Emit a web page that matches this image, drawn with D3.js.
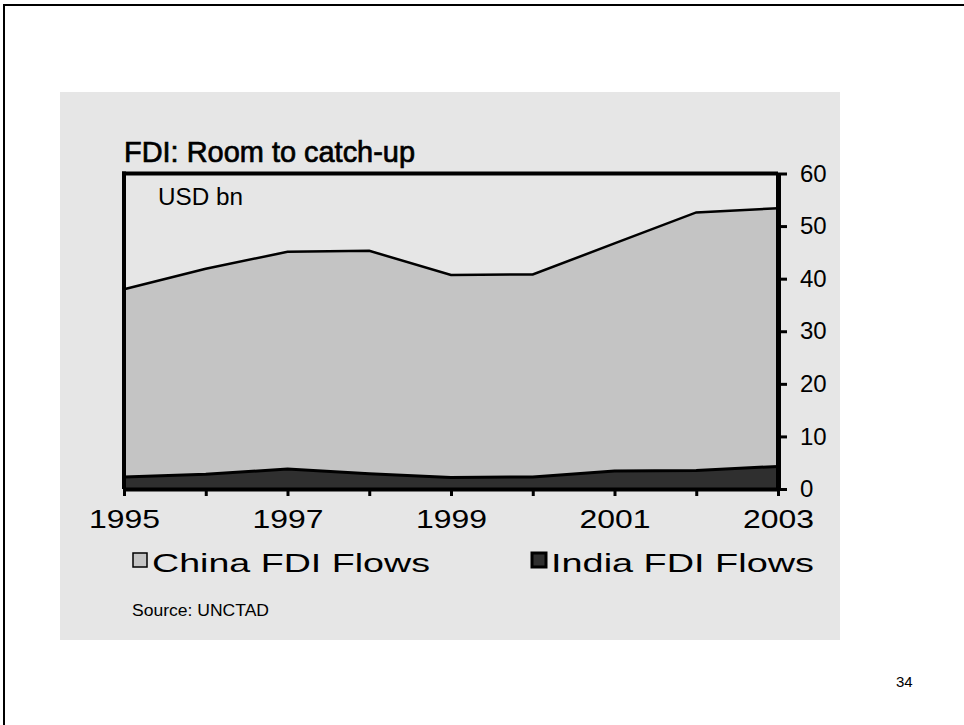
<!DOCTYPE html>
<html>
<head>
<meta charset="utf-8">
<script src="https://cdn.jsdelivr.net/npm/d3@7"></script>
<style>
  html, body { margin: 0; padding: 0; background: #ffffff; }
  svg { display: block; }
  text { font-family: "Liberation Sans", Arial, Helvetica, sans-serif; fill: #000; }
</style>
</head>
<body>
<svg id="chart" width="964" height="725"></svg>
<script>
// FDI inflows, USD bn (UNCTAD)
const years = [1995, 1996, 1997, 1998, 1999, 2000, 2001, 2002, 2003];
const chinaFDI = [38.0, 41.9, 45.1, 45.3, 40.7, 40.8, 46.7, 52.6, 53.4];
const indiaFDI = [2.3, 2.8, 3.8, 2.9, 2.2, 2.3, 3.4, 3.5, 4.3];
const yTicks = [0, 10, 20, 30, 40, 50, 60];
const xLabelYears = [1995, 1997, 1999, 2001, 2003];
const seriesNames = ["China FDI Flows", "India FDI Flows"];

const svg = d3.select("#chart");

// slide frame
svg.append("path")
  .attr("d", "M4,725 V5 H964")
  .attr("fill", "none").attr("stroke", "#000").attr("stroke-width", 2);

// grey chart panel
svg.append("rect")
  .attr("x", 60).attr("y", 92).attr("width", 780).attr("height", 548)
  .attr("fill", "#e6e6e6");

const x = d3.scaleLinear().domain([1995, 2003]).range([124, 778]);
const y = d3.scaleLinear().domain([0, 60]).range([489, 173.5]);

// areas share one generator; India is drawn in front of China
const area = d3.area().x((d, i) => x(years[i])).y0(y(0)).y1(d => y(d));
const line = d3.line().x((d, i) => x(years[i])).y(d => y(d));

svg.append("path").datum(chinaFDI).attr("d", area).attr("fill", "#c4c4c4");
svg.append("path").datum(chinaFDI).attr("d", line)
  .attr("fill", "none").attr("stroke", "#000").attr("stroke-width", 2.5);

svg.append("path").datum(indiaFDI).attr("d", area).attr("fill", "#2f2f2f");
svg.append("path").datum(indiaFDI).attr("d", line)
  .attr("fill", "none").attr("stroke", "#000").attr("stroke-width", 3);

// plot frame: left edge and top edge
svg.append("line")
  .attr("x1", x(1995)).attr("x2", x(1995)).attr("y1", y(60) - 2).attr("y2", y(0))
  .attr("stroke", "#000").attr("stroke-width", 4);
svg.append("line")
  .attr("x1", x(1995) - 2).attr("x2", x(2003)).attr("y1", y(60)).attr("y2", y(60))
  .attr("stroke", "#000").attr("stroke-width", 4);

// bottom axis
const xAxis = d3.axisBottom(x)
  .tickValues(years)
  .tickSize(7).tickSizeOuter(0).tickPadding(14)
  .tickFormat(d => xLabelYears.includes(d) ? String(d) : "");
const gx = svg.append("g").attr("transform", `translate(0,${y(0)})`).call(xAxis);
gx.select(".domain").attr("stroke", "#000").attr("stroke-width", 4);
gx.selectAll(".tick line").attr("stroke", "#000").attr("stroke-width", 3);
gx.selectAll(".tick text")
  .style("font-family", "'Liberation Sans', Arial, sans-serif")
  .style("font-size", "25px").attr("fill", "#000")
  .attr("textLength", 71).attr("lengthAdjust", "spacingAndGlyphs");

// right axis
const yAxis = d3.axisRight(y)
  .tickValues(yTicks)
  .tickSize(9).tickSizeOuter(0).tickPadding(13)
  .tickFormat(d3.format("d"));
const gy = svg.append("g").attr("transform", `translate(${x(2003)},0)`).call(yAxis);
gy.select(".domain").attr("stroke", "#000").attr("stroke-width", 5);
gy.selectAll(".tick line").attr("stroke", "#000").attr("stroke-width", 3);
gy.selectAll(".tick text")
  .style("font-family", "'Liberation Sans', Arial, sans-serif")
  .style("font-size", "24px").attr("fill", "#000");

// title (medium weight via a thin outline) and unit
svg.append("text").attr("x", 124).attr("y", 162)
  .style("font-size", "29px")
  .attr("stroke", "#000").attr("stroke-width", 0.7)
  .attr("textLength", 291).attr("lengthAdjust", "spacingAndGlyphs")
  .text("FDI: Room to catch-up");
svg.append("text").attr("x", 158).attr("y", 205)
  .style("font-size", "23px")
  .attr("textLength", 85).attr("lengthAdjust", "spacingAndGlyphs")
  .text("USD bn");

// legend
const legendColors = ["#c4c4c4", "#2f2f2f"];
const legendX = [133, 532];
const legendTextLen = [278, 263];
seriesNames.forEach((name, i) => {
  const g = svg.append("g").attr("transform", `translate(${legendX[i]},553)`);
  g.append("rect").attr("x", 0).attr("y", 0).attr("width", 14).attr("height", 14)
    .attr("fill", legendColors[i]).attr("stroke", "#000")
    .attr("stroke-width", i === 0 ? 1.5 : 3);
  g.append("text").attr("x", 19).attr("y", 19)
    .style("font-size", "26px")
    .attr("textLength", legendTextLen[i]).attr("lengthAdjust", "spacingAndGlyphs")
    .text(name);
});

// source note and page number
svg.append("text").attr("x", 132).attr("y", 616)
  .style("font-size", "16px")
  .attr("textLength", 137).attr("lengthAdjust", "spacingAndGlyphs")
  .text("Source: UNCTAD");
svg.append("text").attr("x", 896).attr("y", 687)
  .style("font-size", "15px").text("34");
</script>
</body>
</html>
